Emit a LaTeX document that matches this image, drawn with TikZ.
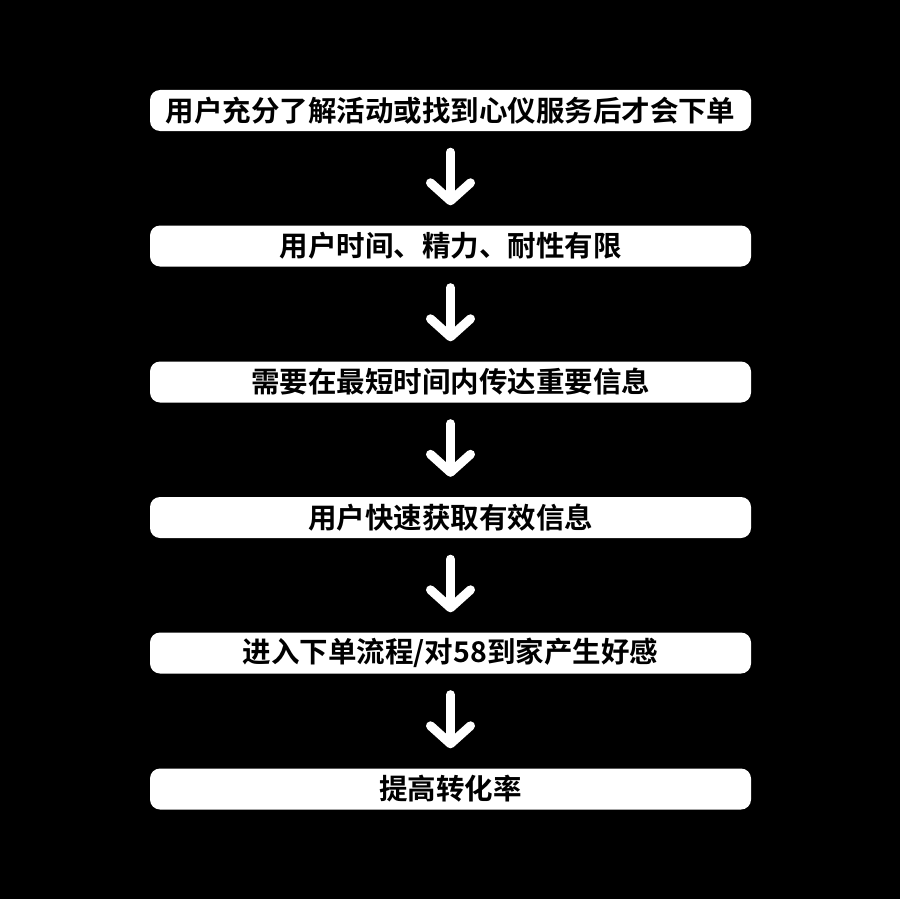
\documentclass[tikz,border=0pt]{standalone}
\usepackage{fontspec}
\newfontfamily\cjk{Noto Sans CJK SC}[BoldFont={Noto Sans CJK SC Bold}]
\usetikzlibrary{arrows.meta,positioning}

\begin{document}
\begin{tikzpicture}[x=1pt, y=-1pt,
  stepbox/.style={fill=white, rounded corners=10pt, minimum width=601pt, minimum height=41pt, inner sep=0pt, font=\cjk\bfseries\fontsize{28.5}{32}\selectfont, text=black},
  arr/.style={-{Straight Barb[length=18pt, width=40pt, line cap=round, line join=round]}, line width=9pt, line cap=round, color=white, shorten <=21pt, shorten >=20pt},
]
% background
\fill[black] (0,0) rectangle (900,899);

% ─── Steps ───
\node[stepbox] (b1) at (450.5, 110.5) {用户充分了解活动或找到心仪服务后才会下单};
\node[stepbox] (b2) at (450.5, 246) {用户时间、精力、耐性有限};
\node[stepbox] (b3) at (450.5, 382) {需要在最短时间内传达重要信息};
\node[stepbox] (b4) at (450.5, 517.5) {用户快速获取有效信息};
\node[stepbox] (b5) at (450.5, 653) {进入下单流程/对58到家产生好感};
\node[stepbox] (b6) at (450.5, 789) {提高转化率};

% ─── Arrows ───
\foreach \a/\b in {b1/b2, b2/b3, b3/b4, b4/b5, b5/b6}
  \draw[arr] (\a) -- (\b);
\end{tikzpicture}
\end{document}
